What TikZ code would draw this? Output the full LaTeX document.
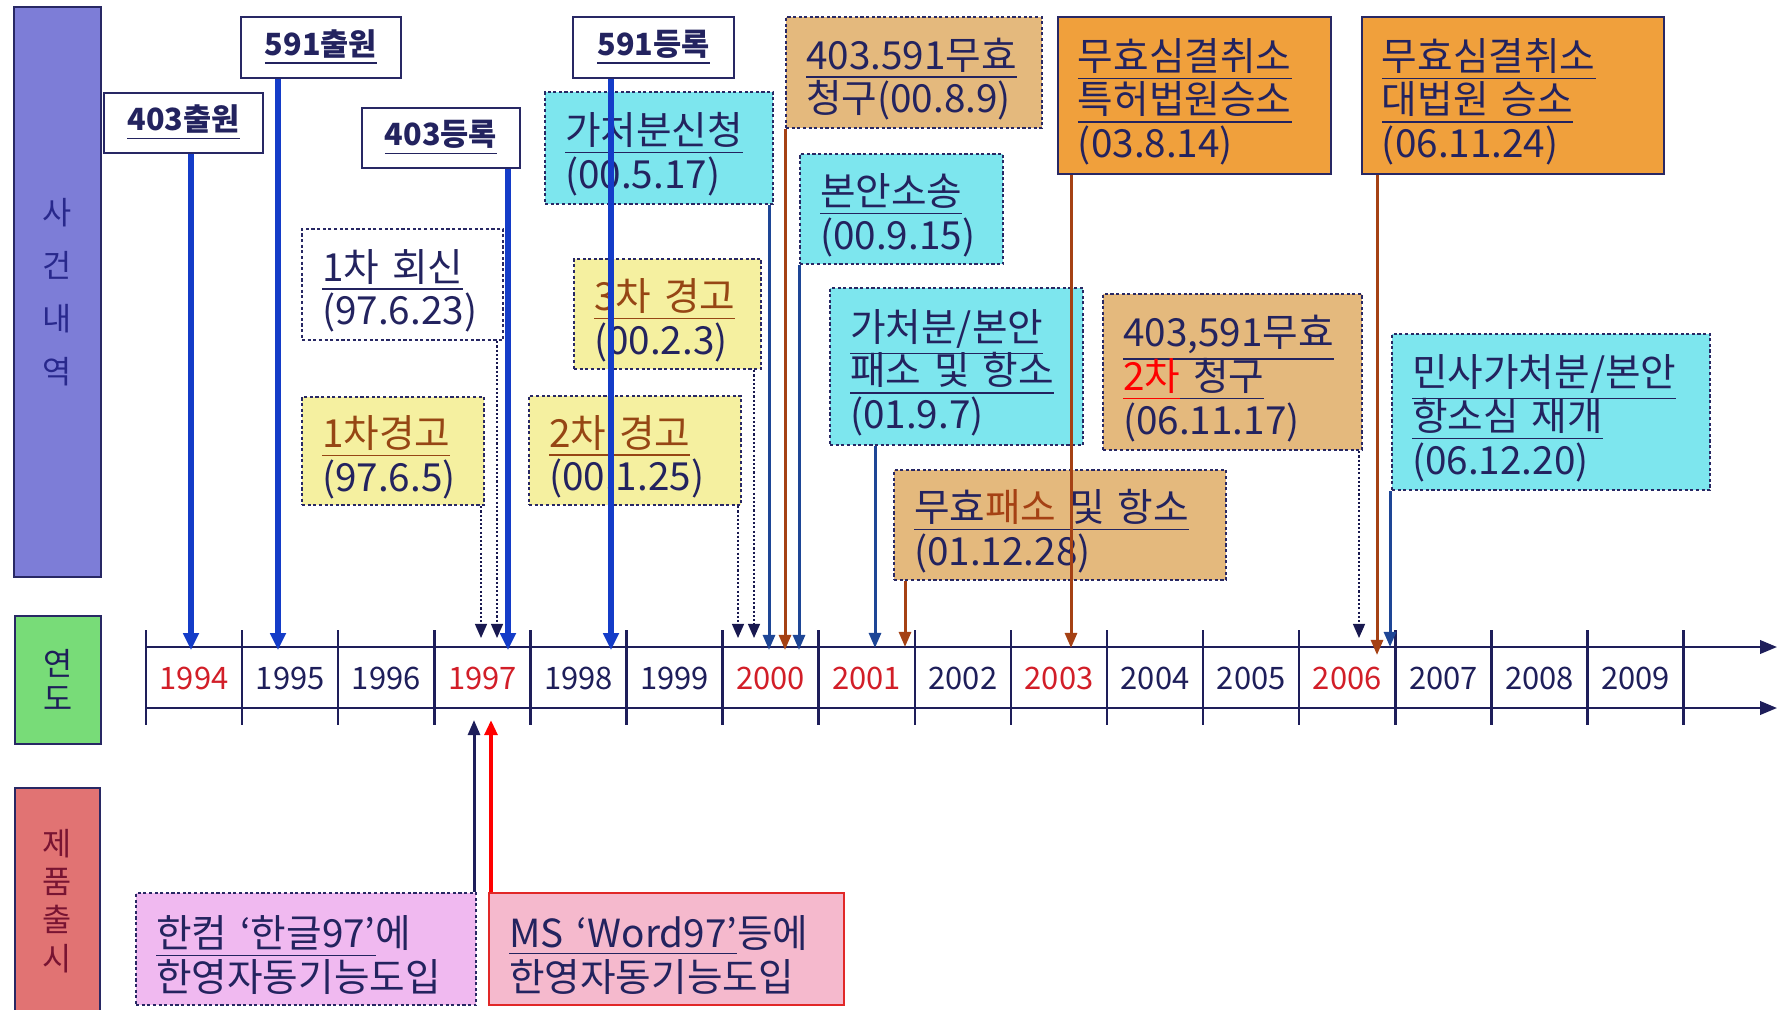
\documentclass[tikz,border=0pt]{standalone}
\usepackage{fontspec}
\setmainfont{Noto Sans CJK KR}
\usetikzlibrary{arrows.meta}

\definecolor{ink}{RGB}{35,35,95}
\definecolor{boxline}{RGB}{40,40,100}
\definecolor{yearred}{RGB}{210,30,40}
\definecolor{axisnavy}{RGB}{30,30,90}
\definecolor{thickblue}{RGB}{20,60,200}
\definecolor{thinblue}{RGB}{30,70,150}
\definecolor{rust}{RGB}{165,65,20}
\definecolor{dotnavy}{RGB}{25,25,80}
\definecolor{sideblue}{RGB}{125,125,215}
\definecolor{sidegreen}{RGB}{120,220,120}
\definecolor{sidered}{RGB}{225,115,115}
\definecolor{cyanfill}{RGB}{125,230,238}
\definecolor{yellowfill}{RGB}{245,240,160}
\definecolor{tanfill}{RGB}{228,185,125}
\definecolor{orangefill}{RGB}{240,160,60}
\definecolor{lilacfill}{RGB}{240,185,240}
\definecolor{pinkfill}{RGB}{245,185,205}
\definecolor{warnbrown}{RGB}{150,70,20}
\definecolor{mslred}{RGB}{225,40,40}

\newcommand{\evfont}{\fontsize{11pt}{12.4pt}\selectfont\lineskiplimit=-20pt\relax}
\newcommand{\boxstrut}{\rule{0pt}{12.6pt}}

\tikzset{
  evbox/.style={draw=boxline, line width=0.6pt, dash pattern=on 0.9pt off 0.7pt,
    anchor=north west, align=left, inner xsep=0.2cm, inner ysep=0pt, text=ink,
    font=\evfont},
  fixbox/.style={evbox, solid, line width=0.55pt},
  keybox/.style={draw=boxline, line width=0.55pt, fill=white, anchor=north west,
    align=center, inner sep=0pt, text=ink, font=\fontsize{8.7pt}{10pt}\selectfont\bfseries},
  sidebox/.style={draw=boxline, line width=0.5pt, anchor=north west, inner sep=0pt,
    align=center, font=\fontsize{9pt}{15pt}\selectfont},
  yearlbl/.style={font=\fontsize{8.8pt}{10pt}\selectfont, text=axisnavy, inner sep=0pt},
  axisline/.style={draw=axisnavy, line width=0.7pt},
  bigarrow/.style={draw=thickblue, line width=1.5pt, -{Triangle[length=4.8pt,width=4.3pt]}},
  bluearrow/.style={draw=thinblue, line width=0.85pt, -{Triangle[length=4.3pt,width=3.4pt]}},
  rustarrow/.style={draw=rust, line width=0.85pt, -{Triangle[length=4.3pt,width=3.4pt]}},
  dotarrow/.style={draw=dotnavy, line width=0.45pt, dash pattern=on 0.6pt off 0.6pt,
    -{Triangle[length=4pt,width=3.4pt]}},
}

\begin{document}
\begin{tikzpicture}[x=0.01cm, y=-0.01cm]
  \useasboundingbox (0,0) rectangle (1782,1009);

  % side panels
  \node[sidebox, fill=sideblue, text={rgb,255:red,40;green,40;blue,140},
    minimum width=0.87cm, minimum height=5.70cm] (sideevt) at (13,6) {사\\건\\내\\역};
  \node[sidebox, fill=sidegreen, text=axisnavy, font=\fontsize{9pt}{9.7pt}\selectfont,
    minimum width=0.86cm, minimum height=1.28cm] (sideyear) at (14,615) {연\\도};
  \node[sidebox, fill=sidered, text={rgb,255:red,120;green,20;blue,50},
    font=\fontsize{9pt}{10.9pt}\selectfont,
    minimum width=0.85cm, minimum height=2.26cm] (sideprod) at (14,787) {제\\품\\출\\시};

  % time axis
  \draw[axisline, -{Triangle[length=4.8pt,width=3.8pt]}] (146,647) -- (1777,647);
  \draw[axisline, -{Triangle[length=4.8pt,width=3.8pt]}] (146,708) -- (1777,708);
  \draw[axisline] (146,630) -- (146,725) (242.1,630) -- (242.1,725)
    (338.2,630) -- (338.2,725) (434.3,630) -- (434.3,725)
    (530.4,630) -- (530.4,725) (626.5,630) -- (626.5,725)
    (722.6,630) -- (722.6,725) (818.7,630) -- (818.7,725)
    (914.8,630) -- (914.8,725) (1010.9,630) -- (1010.9,725)
    (1107,630) -- (1107,725) (1203.1,630) -- (1203.1,725)
    (1299.2,630) -- (1299.2,725) (1395.3,630) -- (1395.3,725)
    (1491.4,630) -- (1491.4,725) (1587.5,630) -- (1587.5,725)
    (1683.6,630) -- (1683.6,725);

  \node[yearlbl, text=yearred] (y1994) at (194,678) {1994};
  \node[yearlbl] (y1995) at (290.2,678) {1995};
  \node[yearlbl] (y1996) at (386.3,678) {1996};
  \node[yearlbl, text=yearred] (y1997) at (482.4,678) {1997};
  \node[yearlbl] (y1998) at (578.5,678) {1998};
  \node[yearlbl] (y1999) at (674.6,678) {1999};
  \node[yearlbl, text=yearred] (y2000) at (770.7,678) {2000};
  \node[yearlbl, text=yearred] (y2001) at (866.8,678) {2001};
  \node[yearlbl] (y2002) at (962.9,678) {2002};
  \node[yearlbl, text=yearred] (y2003) at (1059,678) {2003};
  \node[yearlbl] (y2004) at (1155.1,678) {2004};
  \node[yearlbl] (y2005) at (1251.2,678) {2005};
  \node[yearlbl, text=yearred] (y2006) at (1347.3,678) {2006};
  \node[yearlbl] (y2007) at (1443.4,678) {2007};
  \node[yearlbl] (y2008) at (1539.5,678) {2008};
  \node[yearlbl] (y2009) at (1635.6,678) {2009};

  % patent boxes
  \node[keybox, minimum width=1.59cm, minimum height=0.60cm] (b403a) at (103,92) {\underline{403출원}};
  \node[keybox, minimum width=1.60cm, minimum height=0.61cm] (b591a) at (240,16) {\underline{591출원}};
  \node[keybox, minimum width=1.58cm, minimum height=0.60cm] (b403r) at (361,107) {\underline{403등록}};
  \node[keybox, minimum width=1.61cm, minimum height=0.61cm] (b591r) at (572,16) {\underline{591등록}};

  % events
  \node[evbox, fill=white, text width=1.61cm, minimum height=1.11cm] (reply1) at (301,228)
    {\boxstrut\underline{1차 회신}\\(97.6.23)};
  \node[evbox, fill=yellowfill, text width=1.42cm, minimum height=1.08cm] (warn1) at (301,396)
    {\boxstrut\textcolor{warnbrown}{\underline{1차경고}}\\(97.6.5)};
  \node[evbox, fill=yellowfill, text width=1.72cm, minimum height=1.09cm] (warn2) at (528,395)
    {\boxstrut\textcolor{warnbrown}{\underline{2차 경고}}\\(00.1.25)};
  \node[evbox, fill=yellowfill, text width=1.47cm, minimum height=1.10cm] (warn3) at (573,258)
    {\boxstrut\textcolor{warnbrown}{\underline{3차 경고}}\\(00.2.3)};
  \node[evbox, fill=cyanfill, text width=1.88cm, minimum height=1.12cm] (inj) at (544,91)
    {\boxstrut\underline{가처분신청}\\(00.5.17)};
  \node[evbox, fill=tanfill, text width=2.16cm, minimum height=1.11cm] (inval1) at (785,16)
    {\boxstrut\underline{403.591무효}\\청구(00.8.9)};
  \node[evbox, fill=cyanfill, text width=1.63cm, minimum height=1.10cm] (mainsuit) at (799,153)
    {\boxstrut\underline{본안소송}\\(00.9.15)};
  \node[evbox, fill=cyanfill, text width=2.13cm, minimum height=1.57cm] (injlost) at (829,287)
    {\boxstrut\underline{가처분/본안}\\\underline{패소 및 항소}\\(01.9.7)};
  \node[evbox, fill=tanfill, text width=2.92cm, minimum height=1.10cm] (invlost) at (893,469)
    {\boxstrut\underline{무효\textcolor{rust}{패소} 및 항소}\\(01.12.28)};
  \node[fixbox, fill=orangefill, text width=2.33cm, minimum height=1.57cm] (patcourt) at (1057,16)
    {\boxstrut\underline{무효심결취소}\\\underline{특허법원승소}\\(03.8.14)};
  \node[fixbox, fill=orangefill, text width=2.62cm, minimum height=1.57cm] (supcourt) at (1361,16)
    {\boxstrut\underline{무효심결취소}\\\underline{대법원 승소}\\(06.11.24)};
  \node[evbox, fill=tanfill, text width=2.19cm, minimum height=1.56cm] (inval2) at (1102,293)
    {\boxstrut\underline{403,591무효}\\\textcolor{red}{\underline{2차}}\underline{\ 청구}\\(06.11.17)};
  \node[evbox, fill=cyanfill, text width=2.78cm, minimum height=1.56cm] (appeal) at (1391,333)
    {\boxstrut\underline{민사가처분/본안}\\\underline{항소심 재개}\\(06.12.20)};

  % products
  \node[evbox, fill=lilacfill, text width=3.00cm, minimum height=1.12cm] (hwp) at (135,892)
    {\boxstrut\underline{한컴 ‘한글97’}에\\한영자동기능도입};
  \node[fixbox, draw=mslred, line width=0.6pt, fill=pinkfill, text width=3.15cm,
    minimum height=1.12cm] (word) at (488,892)
    {\boxstrut\underline{MS ‘Word97’}등에\\한영자동기능도입};

  % arrow ends on the axis
  \coordinate (a94) at (191,650);
  \coordinate (a95) at (278,650);
  \coordinate (a97) at (508,650);
  \coordinate (a98) at (611,650);
  \coordinate (d97a) at (481,638);
  \coordinate (d97b) at (497,638);
  \coordinate (d00a) at (738,638);
  \coordinate (d00b) at (754,638);
  \coordinate (t00a) at (769,650);
  \coordinate (t00b) at (785,650);
  \coordinate (t00c) at (799,650);
  \coordinate (t01a) at (875,648);
  \coordinate (t01b) at (905,647);
  \coordinate (t03) at (1071,648);
  \coordinate (d06) at (1359,638);
  \coordinate (t06a) at (1377,655);
  \coordinate (t06b) at (1390,647);
  \coordinate (u97a) at (474,720);
  \coordinate (u97b) at (491,720);

  \draw[bigarrow] (b403a.south -| a94) -- (a94);
  \draw[bigarrow] (b591a.south -| a95) -- (a95);
  \draw[bigarrow] (b403r.south -| a97) -- (a97);
  \draw[bigarrow] (b591r.south -| a98) -- (a98);

  \draw[dotarrow] (warn1.south -| d97a) -- (d97a);
  \draw[dotarrow] (reply1.south -| d97b) -- (d97b);
  \draw[dotarrow] (warn2.south -| d00a) -- (d00a);
  \draw[dotarrow] (warn3.south -| d00b) -- (d00b);
  \draw[dotarrow] (inval2.south -| d06) -- (d06);

  \draw[bluearrow] (inj.south -| t00a) -- (t00a);
  \draw[rustarrow] (inval1.south west) -- (t00b);
  \draw[bluearrow] (mainsuit.south west) -- (t00c);
  \draw[bluearrow] (injlost.south -| t01a) -- (t01a);
  \draw[rustarrow] (invlost.south -| t01b) -- (t01b);
  \draw[rustarrow] (patcourt.south -| t03) -- (t03);
  \draw[rustarrow] (supcourt.south -| t06a) -- (t06a);
  \draw[bluearrow] (appeal.south -| t06b) -- (t06b);

  \draw[draw=axisnavy, line width=0.85pt, -{Triangle[length=4.3pt,width=3.4pt]}] (hwp.north -| u97a) -- (u97a);
  \draw[draw=red, line width=1.1pt, -{Triangle[length=4.3pt,width=3.6pt]}] (word.north -| u97b) -- (u97b);
\end{tikzpicture}
\end{document}
